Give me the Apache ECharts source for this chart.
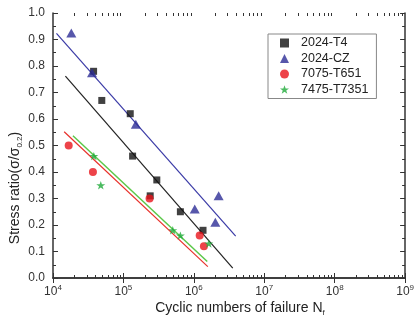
<!DOCTYPE html>
<html>
<head>
<meta charset="utf-8">
<script src="https://cdn.jsdelivr.net/npm/echarts@6/dist/echarts.min.js"></script>
<style>html,body{margin:0;padding:0;background:#fff}#c{width:417px;height:323px}</style>
</head>
<body>
<div id="c"></div>
<script>
// ---- data ----
var seriesNames = ['2024-T4', '2024-CZ', '7075-T651', '7475-T7351'];
var t4X = [37700, 49300, 125000, 135000, 240000, 298000, 644000, 1350000];
var t4Y = [0.78, 0.67, 0.62, 0.46, 0.31, 0.37, 0.25, 0.18];
var czX = [18200, 35800, 150000, 1030000, 2020000, 2250000];
var czY = [0.925, 0.775, 0.58, 0.26, 0.21, 0.31];
var redX = [16700, 36900, 235000, 1210000, 1390000];
var redY = [0.50, 0.40, 0.30, 0.16, 0.12];
var greenX = [38000, 47700, 502000, 644000, 1630000];
var greenY = [0.46, 0.35, 0.18, 0.16, 0.13];
// fitted lines (end points)
var fitCzX = [11200, 3930000];   var fitCzY = [0.923, 0.158];
var fitT4X = [15000, 3570000];   var fitT4Y = [0.762, 0.037];
var fitRedX = [14400, 1580000];  var fitRedY = [0.552, 0.043];
var fitGreenX = [19200, 1550000]; var fitGreenY = [0.537, 0.062];
// axis ranges and minor-tick layout of the log axis
var xMin = 1e4, xMax = 1e9, yMin = 0, yMax = 1.0, yStep = 0.1;
var xDecades = [1e4, 1e5, 1e6, 1e7, 1e8];
var xMinorMultipliers = [2, 3, 4, 5, 6, 7, 8, 9];

function pairs(xs, ys) { return xs.map(function (x, i) { return [x, ys[i]]; }); }
var xMinorTicks = [];
xDecades.forEach(function (d) { xMinorMultipliers.forEach(function (m) { xMinorTicks.push([d * m]); }); });

var FONT = 'Liberation Sans, Arial, sans-serif';
var starPath = 'path://M12,0 L14.9,8.1 L23.4,8.1 L16.5,13.1 L19.1,21.3 L12,16.3 L4.9,21.3 L7.5,13.1 L0.6,8.1 L9.1,8.1 Z';
var C_T4 = '#111111', C_CZ = '#2d2d96', C_RED = '#e8141c', C_GREEN = '#1faa3a';
var AX = '#333';

var chart = echarts.init(document.getElementById('c'), null, {renderer: 'canvas'});
var axisCommonX = {
  type: 'log', logBase: 10, min: xMin, max: xMax, interval: 1,
  axisLine: {show: true, lineStyle: {color: AX, width: 1.5}},
  axisTick: {show: true, inside: true, length: 5, lineStyle: {color: AX, width: 1}},
  minorTick: {show: false},
  splitLine: {show: false}
};
var axisCommonY = {
  type: 'value', min: yMin, max: yMax, interval: yStep,
  axisLine: {show: true, lineStyle: {color: AX, width: 1.5}},
  axisTick: {show: true, inside: true, length: 5, lineStyle: {color: AX, width: 1}},
  minorTick: {show: true, splitNumber: 2, length: 3, lineStyle: {color: AX, width: 1}},
  splitLine: {show: false}
};

var option = {
  animation: false,
  backgroundColor: '#fff',
  textStyle: {fontFamily: FONT},
  grid: {left: 53, right: 6, top: 13, bottom: 45, containLabel: false},
  xAxis: [
    Object.assign({}, axisCommonX, {
      position: 'bottom',
      axisLabel: {
        show: true, margin: 6, color: AX,
        formatter: function (v) { return '{b|10}{s|' + Math.round(Math.log10(v)) + '}'; },
        rich: {
          b: {fontSize: 12, lineHeight: 16, fontFamily: FONT, color: AX},
          s: {fontSize: 8, lineHeight: 8, verticalAlign: 'top', fontFamily: FONT, color: AX}
        }
      }
    }),
    Object.assign({}, axisCommonX, {position: 'top', axisLabel: {show: false}})
  ],
  yAxis: [
    Object.assign({}, axisCommonY, {
      position: 'left',
      axisLabel: {show: true, margin: 8, fontSize: 12, color: AX, fontFamily: FONT,
        formatter: function (v) { return v.toFixed(1); }}
    }),
    Object.assign({}, axisCommonY, {position: 'right', axisLabel: {show: false}})
  ],
  legend: {
    left: 268, top: 34, orient: 'vertical',
    data: seriesNames,
    itemWidth: 9, itemHeight: 9, itemGap: 1.5,
    padding: [2, 8, 2, 12],
    borderColor: '#888', borderWidth: 1,
    formatter: function (n) { return '{p|}' + n; },
    textStyle: {fontSize: 12.5, color: '#222', fontFamily: FONT, lineHeight: 14,
      rich: {p: {width: 7}}}
  },
  graphic: [
    {type: 'text', x: 15, y: 188, rotation: Math.PI / 2, silent: true,
      style: {text: '{a|Stress ratio(σ/σ}{s|0.2}{a|)}', align: 'center', verticalAlign: 'middle',
        rich: {a: {fontSize: 14, lineHeight: 18, fontFamily: FONT, fill: '#222'},
               s: {fontSize: 8, lineHeight: 8, verticalAlign: 'bottom', fontFamily: FONT, fill: '#222'}}}},
    {type: 'text', x: 240, y: 308, silent: true,
      style: {text: '{a|Cyclic numbers of failure N}{s|f}', align: 'center', verticalAlign: 'middle',
        rich: {a: {fontSize: 14, lineHeight: 18, fontFamily: FONT, fill: '#222'},
               s: {fontSize: 8, lineHeight: 8, verticalAlign: 'bottom', fontFamily: FONT, fill: '#222'}}}}
  ],
  series: [
    {type: 'custom', silent: true, z: 2, clip: false, data: xMinorTicks,
      renderItem: function (params, api) {
        var v = api.value(0);
        var b = api.coord([v, yMin]);
        var t = api.coord([v, yMax]);
        var st = {stroke: AX, lineWidth: 1};
        return {type: 'group', children: [
          {type: 'line', shape: {x1: Math.round(b[0]) + 0.5, y1: b[1], x2: Math.round(b[0]) + 0.5, y2: b[1] - 3}, style: st},
          {type: 'line', shape: {x1: Math.round(t[0]) + 0.5, y1: t[1], x2: Math.round(t[0]) + 0.5, y2: t[1] + 3}, style: st}
        ]};
      }},
    {type: 'line', data: pairs(fitCzX, fitCzY), symbol: 'none', lineStyle: {color: '#3a3aa6', width: 1.2}, silent: true, z: 1},
    {type: 'line', data: pairs(fitT4X, fitT4Y), symbol: 'none', lineStyle: {color: '#222', width: 1.2}, silent: true, z: 1},
    {type: 'line', data: pairs(fitRedX, fitRedY), symbol: 'none', lineStyle: {color: '#e8302a', width: 1.2}, silent: true, z: 1},
    {type: 'line', data: pairs(fitGreenX, fitGreenY), symbol: 'none', lineStyle: {color: '#5cc84a', width: 1.5}, silent: true, z: 1},
    {name: seriesNames[0], type: 'scatter', data: pairs(t4X, t4Y), symbol: 'rect', symbolSize: 7, itemStyle: {color: C_T4}, z: 3},
    {name: seriesNames[1], type: 'scatter', data: pairs(czX, czY), symbol: 'triangle', symbolSize: [10, 9], itemStyle: {color: C_CZ}, z: 3},
    {name: seriesNames[2], type: 'scatter', data: pairs(redX, redY), symbol: 'circle', symbolSize: 8, itemStyle: {color: C_RED}, z: 3},
    {name: seriesNames[3], type: 'scatter', data: pairs(greenX, greenY), symbol: starPath, symbolSize: 9, symbolKeepAspect: true, itemStyle: {color: C_GREEN}, z: 3}
  ]
};
chart.setOption(option);
</script>
</body>
</html>
